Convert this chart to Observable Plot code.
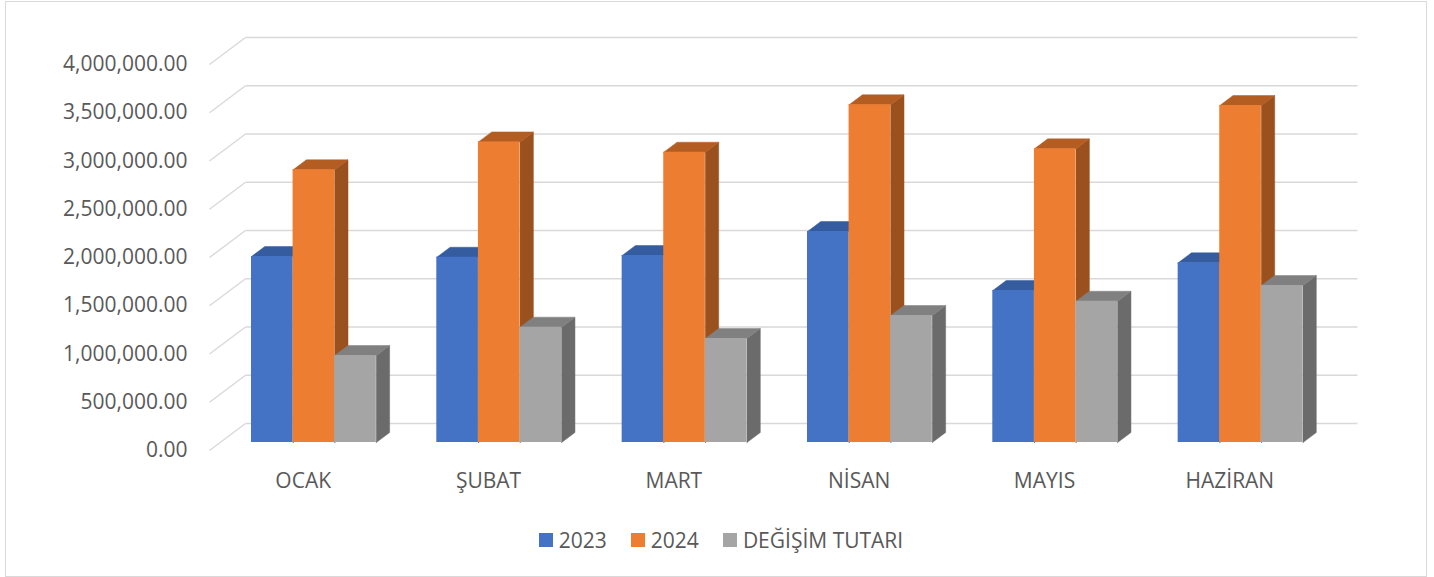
<!DOCTYPE html>
<html>
<head>
<meta charset="utf-8">
<script src="https://cdn.jsdelivr.net/npm/d3@7"></script>
<script src="https://cdn.jsdelivr.net/npm/@observablehq/plot@0.6"></script>
<style>
  html, body { margin: 0; padding: 0; background: #fff; width: 1434px; height: 577px; overflow: hidden; }
  #frame { position: absolute; left: 5px; top: 1px; width: 1422px; height: 576px; box-sizing: border-box; border: 1px solid #D9D9D9; }
  #chart { position: absolute; left: 0; top: 0; }
  #legend { position: absolute; left: 0; top: 526px; width: 1434px; display: flex; justify-content: center; align-items: center;
            font-family: "Open Sans", sans-serif; font-size: 21px; color: #595959; padding-left: 8px; box-sizing: border-box; }
  .item { display: flex; align-items: center; margin: 0 12px; }
  .sw { width: 14px; height: 14px; margin-right: 6px; }
</style>
</head>
<body>
<div id="frame"></div>
<div id="chart"></div>
<div id="legend"></div>
<script>
// ---- data ----
const months = ["OCAK", "ŞUBAT", "MART", "NİSAN", "MAYIS", "HAZİRAN"];
const seriesNames = ["2023", "2024", "DEĞİŞİM TUTARI"];
const values2023 = [1927500, 1920000, 1938000, 2186600, 1575000, 1862000];
const values2024 = [2826000, 3115000, 3008000, 3499600, 3043000, 3492000];
const valuesDiff = [901600, 1195000, 1078000, 1316000, 1464000, 1627000];
const yTickCount = 8;

// ---- styling ----
const frontColors = ["#4472C4", "#ED7D31", "#A5A5A5"];
const topColors = ["#345C9F", "#B45D22", "#808080"];
const sideColors = ["#2F528F", "#9A511D", "#6B6B6B"];

// 3D oblique depth expressed in data units (full depth of the floor)
const DX = 0.1943;     // x units (months)
const DY = 280000;     // y units
const t0 = 0.296, t1 = 0.666;   // bar front / back depth fraction
const barW = 0.2245, pad = 0.169;

const allSeries = [values2023, values2024, valuesDiff];
const bars = [];
allSeries.forEach((vals, s) => {
  vals.forEach((v, i) => {
    bars.push({s, i, v, x0: i + pad + s * barW, x1: i + pad + (s + 1) * barW});
  });
});

function frontRects(s) {
  return bars.filter(b => b.s === s).map(b => ({
    x1: b.x0 + t0 * DX, x2: b.x1 + t0 * DX, y1: t0 * DY, y2: b.v + t0 * DY
  }));
}
function topPolys(s) {
  const out = [];
  bars.filter(b => b.s === s).forEach(b => {
    const id = b.i;
    out.push({id, x: b.x0 + t0 * DX, y: b.v + t0 * DY});
    out.push({id, x: b.x1 + t0 * DX, y: b.v + t0 * DY});
    out.push({id, x: b.x1 + t1 * DX, y: b.v + t1 * DY});
    out.push({id, x: b.x0 + t1 * DX, y: b.v + t1 * DY});
    out.push({id, x: b.x0 + t0 * DX, y: b.v + t0 * DY});
  });
  return out;
}
function sidePolys(s) {
  const out = [];
  bars.filter(b => b.s === s).forEach(b => {
    const id = b.i;
    out.push({id, x: b.x1 + t0 * DX, y: t0 * DY});
    out.push({id, x: b.x1 + t1 * DX, y: t1 * DY});
    out.push({id, x: b.x1 + t1 * DX, y: b.v + t1 * DY});
    out.push({id, x: b.x1 + t0 * DX, y: b.v + t0 * DY});
    out.push({id, x: b.x1 + t0 * DX, y: t0 * DY});
  });
  return out;
}

const ticks = d3.ticks(0, 4000000, yTickCount);

const barMarks = [];
[0, 1, 2].forEach(s => {
  barMarks.push(Plot.line(sidePolys(s), {x: "x", y: "y", z: "id", fill: sideColors[s], stroke: sideColors[s], strokeWidth: 0.5, curve: "linear"}));
  barMarks.push(Plot.line(topPolys(s), {x: "x", y: "y", z: "id", fill: topColors[s], stroke: topColors[s], strokeWidth: 0.5, curve: "linear"}));
  barMarks.push(Plot.rect(frontRects(s), {x1: "x1", x2: "x2", y1: "y1", y2: "y2", fill: frontColors[s]}));
});

const chart = Plot.plot({
  width: 1434,
  height: 510,
  marginLeft: 209,
  marginRight: 113,
  marginTop: 64,
  marginBottom: 60,
  x: {domain: [0, months.length], axis: null},
  y: {domain: [0, 4000000], ticks: yTickCount, tickFormat: d3.format(",.2f"), tickSize: 0, tickPadding: 22, label: null},
  style: {fontFamily: "Open Sans, sans-serif", fontSize: "21px", color: "#595959", background: "transparent", overflow: "visible"},
  marks: [
    // back wall gridlines
    Plot.link(ticks, {x1: DX, x2: months.length + DX, y1: d => d + DY, y2: d => d + DY, stroke: "#D9D9D9", strokeWidth: 1.4}),
    // side wall diagonals
    Plot.link(ticks, {x1: 0, x2: DX, y1: d => d, y2: d => d + DY, stroke: "#D9D9D9", strokeWidth: 1.4}),
    ...barMarks,
    Plot.text(months, {x: (d, i) => i + 0.5, y: 0, dx: 1, dy: 31, text: d => d, fill: "#595959", fontSize: 21})
  ]
});
document.getElementById("chart").appendChild(chart);

const legend = document.getElementById("legend");
seriesNames.forEach((name, s) => {
  const item = document.createElement("div");
  item.className = "item";
  const sw = document.createElement("div");
  sw.className = "sw";
  sw.style.background = frontColors[s];
  const label = document.createElement("span");
  label.textContent = name;
  item.appendChild(sw);
  item.appendChild(label);
  legend.appendChild(item);
});
</script>
</body>
</html>
